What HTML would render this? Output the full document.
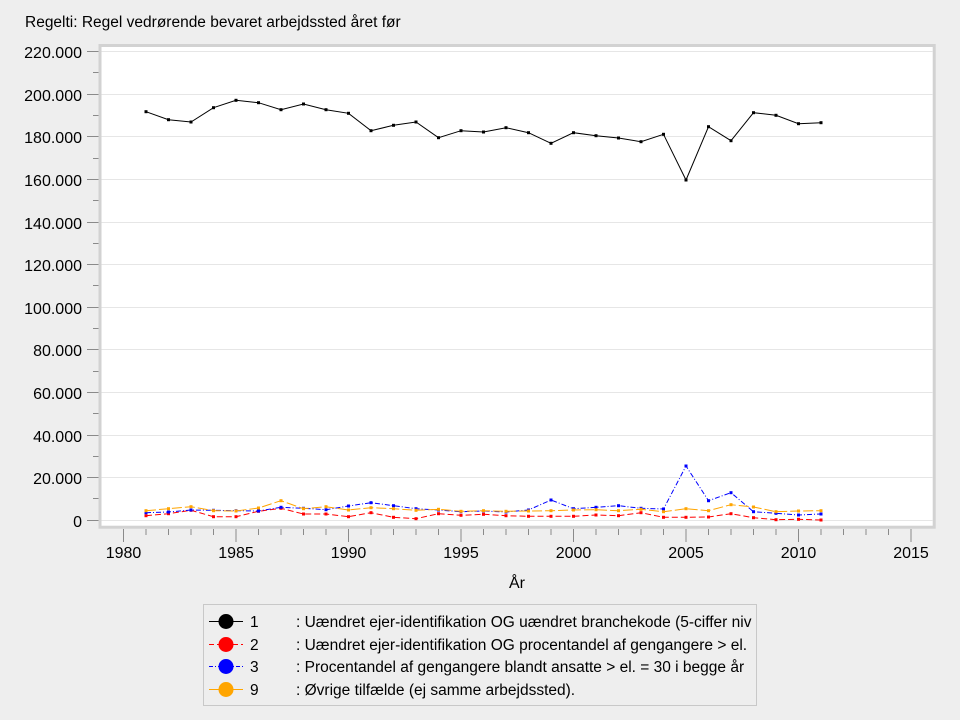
<!DOCTYPE html>
<html>
<head>
<meta charset="utf-8">
<style>
html,body{margin:0;padding:0;background:#eeeeee;}
svg{display:block;}
text{font-family:"Liberation Sans",Arial,sans-serif;fill:#000;}
</style>
</head>
<body>
<svg width="960" height="720" viewBox="0 0 960 720" xmlns="http://www.w3.org/2000/svg">
<defs>
<marker id="mk" markerUnits="userSpaceOnUse" markerWidth="4" markerHeight="4" refX="2" refY="2"><rect x="0.5" y="0.5" width="3" height="3" fill="#000"/></marker>
<marker id="mr" markerUnits="userSpaceOnUse" markerWidth="4" markerHeight="4" refX="2" refY="2"><rect x="0.5" y="0.5" width="3" height="3" fill="#ff0000"/></marker>
<marker id="mb" markerUnits="userSpaceOnUse" markerWidth="4" markerHeight="4" refX="2" refY="2"><rect x="0.5" y="0.5" width="3" height="3" fill="#0000ff"/></marker>
<marker id="mo" markerUnits="userSpaceOnUse" markerWidth="4" markerHeight="4" refX="2" refY="2"><rect x="0.5" y="0.5" width="3" height="3" fill="#ffa500"/></marker>
</defs>
<rect width="960" height="720" fill="#eeeeee"/>
<text x="25" y="27" font-size="15.5">Regelti: Regel vedrørende bevaret arbejdssted året før</text>

<!-- plot frame -->
<rect x="100" y="45.5" width="834.2" height="481.7" fill="#ffffff" stroke="#d2d2d2" stroke-width="3"/>

<!-- gridlines -->
<g stroke="#e6e6e6" stroke-width="1">
<line x1="101.5" x2="932.7" y1="520.5" y2="520.5"/>
<line x1="101.5" x2="932.7" y1="477.5" y2="477.5"/>
<line x1="101.5" x2="932.7" y1="435.5" y2="435.5"/>
<line x1="101.5" x2="932.7" y1="392.5" y2="392.5"/>
<line x1="101.5" x2="932.7" y1="349.5" y2="349.5"/>
<line x1="101.5" x2="932.7" y1="307.5" y2="307.5"/>
<line x1="101.5" x2="932.7" y1="264.5" y2="264.5"/>
<line x1="101.5" x2="932.7" y1="222.5" y2="222.5"/>
<line x1="101.5" x2="932.7" y1="179.5" y2="179.5"/>
<line x1="101.5" x2="932.7" y1="136.5" y2="136.5"/>
<line x1="101.5" x2="932.7" y1="94.5" y2="94.5"/>
<line x1="101.5" x2="932.7" y1="51.5" y2="51.5"/>
</g>

<!-- y ticks -->
<g stroke="#8a8a8a" stroke-width="1">
<line x1="87" x2="98.5" y1="520.5" y2="520.5"/>
<line x1="87" x2="98.5" y1="477.5" y2="477.5"/>
<line x1="87" x2="98.5" y1="435.5" y2="435.5"/>
<line x1="87" x2="98.5" y1="392.5" y2="392.5"/>
<line x1="87" x2="98.5" y1="349.5" y2="349.5"/>
<line x1="87" x2="98.5" y1="307.5" y2="307.5"/>
<line x1="87" x2="98.5" y1="264.5" y2="264.5"/>
<line x1="87" x2="98.5" y1="222.5" y2="222.5"/>
<line x1="87" x2="98.5" y1="179.5" y2="179.5"/>
<line x1="87" x2="98.5" y1="136.5" y2="136.5"/>
<line x1="87" x2="98.5" y1="94.5" y2="94.5"/>
<line x1="87" x2="98.5" y1="51.5" y2="51.5"/>
<line x1="93" x2="98.5" y1="498.5" y2="498.5"/>
<line x1="93" x2="98.5" y1="456.5" y2="456.5"/>
<line x1="93" x2="98.5" y1="413.5" y2="413.5"/>
<line x1="93" x2="98.5" y1="371.5" y2="371.5"/>
<line x1="93" x2="98.5" y1="328.5" y2="328.5"/>
<line x1="93" x2="98.5" y1="285.5" y2="285.5"/>
<line x1="93" x2="98.5" y1="243.5" y2="243.5"/>
<line x1="93" x2="98.5" y1="200.5" y2="200.5"/>
<line x1="93" x2="98.5" y1="158.5" y2="158.5"/>
<line x1="93" x2="98.5" y1="115.5" y2="115.5"/>
<line x1="93" x2="98.5" y1="72.5" y2="72.5"/>
</g>

<!-- y labels -->
<g font-size="16" text-anchor="end">
<text x="82" y="527">0</text>
<text x="82" y="484">20.000</text>
<text x="82" y="442">40.000</text>
<text x="82" y="399">60.000</text>
<text x="82" y="356">80.000</text>
<text x="82" y="314">100.000</text>
<text x="82" y="271">120.000</text>
<text x="82" y="229">140.000</text>
<text x="82" y="186">160.000</text>
<text x="82" y="143">180.000</text>
<text x="82" y="101">200.000</text>
<text x="82" y="58">220.000</text>
</g>

<!-- x ticks -->
<g stroke="#8a8a8a" stroke-width="1">
<line x1="123.5" x2="123.5" y1="529" y2="542"/>
<line x1="146" x2="146" y1="529" y2="535"/>
<line x1="168.5" x2="168.5" y1="529" y2="535"/>
<line x1="191" x2="191" y1="529" y2="535"/>
<line x1="213.5" x2="213.5" y1="529" y2="535"/>
<line x1="236" x2="236" y1="529" y2="542"/>
<line x1="258.5" x2="258.5" y1="529" y2="535"/>
<line x1="281" x2="281" y1="529" y2="535"/>
<line x1="303.5" x2="303.5" y1="529" y2="535"/>
<line x1="326" x2="326" y1="529" y2="535"/>
<line x1="348.5" x2="348.5" y1="529" y2="542"/>
<line x1="371" x2="371" y1="529" y2="535"/>
<line x1="393.5" x2="393.5" y1="529" y2="535"/>
<line x1="416" x2="416" y1="529" y2="535"/>
<line x1="438.5" x2="438.5" y1="529" y2="535"/>
<line x1="461" x2="461" y1="529" y2="542"/>
<line x1="483.5" x2="483.5" y1="529" y2="535"/>
<line x1="506" x2="506" y1="529" y2="535"/>
<line x1="528.5" x2="528.5" y1="529" y2="535"/>
<line x1="551" x2="551" y1="529" y2="535"/>
<line x1="573.5" x2="573.5" y1="529" y2="542"/>
<line x1="596" x2="596" y1="529" y2="535"/>
<line x1="618.5" x2="618.5" y1="529" y2="535"/>
<line x1="641" x2="641" y1="529" y2="535"/>
<line x1="663.5" x2="663.5" y1="529" y2="535"/>
<line x1="686" x2="686" y1="529" y2="542"/>
<line x1="708.5" x2="708.5" y1="529" y2="535"/>
<line x1="731" x2="731" y1="529" y2="535"/>
<line x1="753.5" x2="753.5" y1="529" y2="535"/>
<line x1="776" x2="776" y1="529" y2="535"/>
<line x1="798.5" x2="798.5" y1="529" y2="542"/>
<line x1="821" x2="821" y1="529" y2="535"/>
<line x1="843.5" x2="843.5" y1="529" y2="535"/>
<line x1="866" x2="866" y1="529" y2="535"/>
<line x1="888.5" x2="888.5" y1="529" y2="535"/>
<line x1="911" x2="911" y1="529" y2="542"/>
</g>

<!-- x labels -->
<g font-size="16" text-anchor="middle">
<text x="123.5" y="558">1980</text>
<text x="236" y="558">1985</text>
<text x="348.5" y="558">1990</text>
<text x="461" y="558">1995</text>
<text x="573.5" y="558">2000</text>
<text x="686" y="558">2005</text>
<text x="798.5" y="558">2010</text>
<text x="911" y="558">2015</text>
<text x="517" y="588">År</text>
</g>

<!-- series 1 black -->
<polyline fill="none" stroke="#000" stroke-width="1" marker-start="url(#mk)" marker-mid="url(#mk)" marker-end="url(#mk)"
points="146,111.7 168.5,119.7 191,122 213.5,107.7 236,100.3 258.5,102.7 281,109.7 303.5,104 326,109.7 348.5,113.3 371,130.7 393.5,125.3 416,122 438.5,137.7 461,130.7 483.5,132 506,127.7 528.5,132.7 551,143.3 573.5,132.7 596,135.7 618.5,138 641,141.7 663.5,134.3 686,180 708.5,126.7 731,140.7 753.5,112.7 776,115.3 798.5,123.7 821,122.7"/>

<!-- series 2 red -->
<polyline fill="none" stroke="#ff0000" stroke-width="1" stroke-dasharray="6,3" marker-start="url(#mr)" marker-mid="url(#mr)" marker-end="url(#mr)"
points="146,515.7 168.5,513.7 191,510.3 213.5,516.7 236,516.7 258.5,511.3 281,508.3 303.5,514 326,514 348.5,516.7 371,512.7 393.5,517.3 416,518.7 438.5,513.7 461,515.3 483.5,514.3 506,515.7 528.5,516.3 551,516.3 573.5,516.3 596,515 618.5,515.7 641,512.7 663.5,517.3 686,517.3 708.5,517 731,513.7 753.5,517.7 776,519.7 798.5,519.3 821,520"/>

<!-- series 3 blue -->
<polyline fill="none" stroke="#0000ff" stroke-width="1" stroke-dasharray="5,2,1,2" marker-start="url(#mb)" marker-mid="url(#mb)" marker-end="url(#mb)"
points="146,512.7 168.5,512 191,510 213.5,510.3 236,510.7 258.5,511 281,507.3 303.5,508.3 326,509.7 348.5,506 371,502.7 393.5,505.7 416,508.7 438.5,510 461,511.7 483.5,511 506,512 528.5,510 551,500 573.5,508.7 596,507.3 618.5,505.7 641,508.3 663.5,509 686,466 708.5,500.7 731,492.7 753.5,511.7 776,513.3 798.5,515 821,514"/>

<!-- series 9 orange -->
<polyline fill="none" stroke="#ffa500" stroke-width="1" stroke-dasharray="10,3" marker-start="url(#mo)" marker-mid="url(#mo)" marker-end="url(#mo)"
points="146,510.7 168.5,508.7 191,506.7 213.5,510.7 236,511 258.5,508 281,500.7 303.5,508.7 326,506.7 348.5,510 371,507.7 393.5,508.7 416,510.3 438.5,509.3 461,511.3 483.5,510.7 506,511.3 528.5,511 551,510.7 573.5,510 596,509.7 618.5,510.7 641,509.3 663.5,511.7 686,508.7 708.5,510.7 731,504.7 753.5,507 776,511.7 798.5,511 821,510.7"/>

<!-- legend -->
<rect x="203.5" y="604.5" width="553" height="101" fill="#eeeeee" stroke="#c8c8c8" stroke-width="1"/>
<line x1="209" x2="243" y1="621.5" y2="621.5" stroke="#000" stroke-width="1"/>
<circle cx="226" cy="621.5" r="7.5" fill="#000"/>
<line x1="209" x2="243" y1="644.5" y2="644.5" stroke="#ff0000" stroke-width="1" stroke-dasharray="5,3"/>
<circle cx="226" cy="644.5" r="7.5" fill="#ff0000"/>
<line x1="209" x2="243" y1="666.5" y2="666.5" stroke="#0000ff" stroke-width="1" stroke-dasharray="4,2,1,2"/>
<circle cx="226" cy="666.5" r="7.5" fill="#0000ff"/>
<line x1="209" x2="243" y1="689.5" y2="689.5" stroke="#ffa500" stroke-width="1"/>
<circle cx="226" cy="689.5" r="7.5" fill="#ffa500"/>
<g font-size="15.5">
<text x="250" y="627">1</text>
<text x="250" y="650">2</text>
<text x="250" y="672">3</text>
<text x="250" y="695">9</text>
<text x="296" y="627">: Uændret ejer-identifikation OG uændret branchekode (5-ciffer niv</text>
<text x="296" y="650">: Uændret ejer-identifikation OG procentandel af gengangere &gt; el.</text>
<text x="296" y="672">: Procentandel af gengangere blandt ansatte &gt; el. = 30 i begge år</text>
<text x="296" y="695">: Øvrige tilfælde (ej samme arbejdssted).</text>
</g>
</svg>
</body>
</html>
